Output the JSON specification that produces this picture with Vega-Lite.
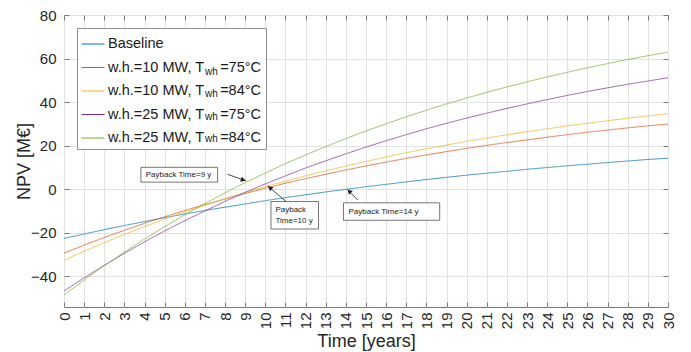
{
  "$schema": "https://vega.github.io/schema/vega-lite/v6.json",
  "width": 604,
  "height": 292,
  "autosize": {"type": "none"},
  "padding": {"left": 64, "top": 15, "right": 23, "bottom": 45},
  "background": "white",
  "config": {
    "font": "Liberation Sans",
    "view": {"stroke": "#7a7a7a", "strokeWidth": 1},
    "axis": {
      "labelFont": "Liberation Sans",
      "labelFontSize": 15,
      "labelColor": "#262626",
      "titleFont": "Liberation Sans",
      "titleFontSize": 18,
      "titleFontWeight": "normal",
      "titleColor": "#262626",
      "gridColor": "#e2e2e2",
      "gridWidth": 1,
      "tickColor": "#7a7a7a",
      "domain": false
    }
  },
  "datasets": {
    "npv": [
      {"t":0,"s":"Baseline","v":-22.5},{"t":1,"s":"Baseline","v":-20.5},{"t":2,"s":"Baseline","v":-18.5},{"t":3,"s":"Baseline","v":-16.6},{"t":4,"s":"Baseline","v":-14.8},{"t":5,"s":"Baseline","v":-13.0},{"t":6,"s":"Baseline","v":-11.3},{"t":7,"s":"Baseline","v":-9.7},{"t":8,"s":"Baseline","v":-8.2},{"t":9,"s":"Baseline","v":-6.7},{"t":10,"s":"Baseline","v":-5.2},{"t":11,"s":"Baseline","v":-3.8},{"t":12,"s":"Baseline","v":-2.5},{"t":13,"s":"Baseline","v":-1.2},{"t":14,"s":"Baseline","v":0.0},{"t":15,"s":"Baseline","v":1.2},{"t":16,"s":"Baseline","v":2.3},{"t":17,"s":"Baseline","v":3.4},{"t":18,"s":"Baseline","v":4.5},{"t":19,"s":"Baseline","v":5.5},{"t":20,"s":"Baseline","v":6.5},{"t":21,"s":"Baseline","v":7.4},{"t":22,"s":"Baseline","v":8.3},{"t":23,"s":"Baseline","v":9.2},{"t":24,"s":"Baseline","v":10.0},{"t":25,"s":"Baseline","v":10.8},{"t":26,"s":"Baseline","v":11.5},{"t":27,"s":"Baseline","v":12.3},{"t":28,"s":"Baseline","v":13.0},{"t":29,"s":"Baseline","v":13.7},{"t":30,"s":"Baseline","v":14.3},
      {"t":0,"s":"w.h.=10 MW, Twh=75°C","v":-29.3},{"t":1,"s":"w.h.=10 MW, Twh=75°C","v":-25.6},{"t":2,"s":"w.h.=10 MW, Twh=75°C","v":-22.1},{"t":3,"s":"w.h.=10 MW, Twh=75°C","v":-18.8},{"t":4,"s":"w.h.=10 MW, Twh=75°C","v":-15.6},{"t":5,"s":"w.h.=10 MW, Twh=75°C","v":-12.6},{"t":6,"s":"w.h.=10 MW, Twh=75°C","v":-9.7},{"t":7,"s":"w.h.=10 MW, Twh=75°C","v":-7.0},{"t":8,"s":"w.h.=10 MW, Twh=75°C","v":-4.4},{"t":9,"s":"w.h.=10 MW, Twh=75°C","v":-1.9},{"t":10,"s":"w.h.=10 MW, Twh=75°C","v":0.5},{"t":11,"s":"w.h.=10 MW, Twh=75°C","v":2.8},{"t":12,"s":"w.h.=10 MW, Twh=75°C","v":4.9},{"t":13,"s":"w.h.=10 MW, Twh=75°C","v":6.9},{"t":14,"s":"w.h.=10 MW, Twh=75°C","v":8.9},{"t":15,"s":"w.h.=10 MW, Twh=75°C","v":10.7},{"t":16,"s":"w.h.=10 MW, Twh=75°C","v":12.5},{"t":17,"s":"w.h.=10 MW, Twh=75°C","v":14.2},{"t":18,"s":"w.h.=10 MW, Twh=75°C","v":15.8},{"t":19,"s":"w.h.=10 MW, Twh=75°C","v":17.3},{"t":20,"s":"w.h.=10 MW, Twh=75°C","v":18.8},{"t":21,"s":"w.h.=10 MW, Twh=75°C","v":20.2},{"t":22,"s":"w.h.=10 MW, Twh=75°C","v":21.5},{"t":23,"s":"w.h.=10 MW, Twh=75°C","v":22.7},{"t":24,"s":"w.h.=10 MW, Twh=75°C","v":23.9},{"t":25,"s":"w.h.=10 MW, Twh=75°C","v":25.1},{"t":26,"s":"w.h.=10 MW, Twh=75°C","v":26.2},{"t":27,"s":"w.h.=10 MW, Twh=75°C","v":27.2},{"t":28,"s":"w.h.=10 MW, Twh=75°C","v":28.2},{"t":29,"s":"w.h.=10 MW, Twh=75°C","v":29.1},{"t":30,"s":"w.h.=10 MW, Twh=75°C","v":30.0},
      {"t":0,"s":"w.h.=10 MW, Twh=84°C","v":-32.6},{"t":1,"s":"w.h.=10 MW, Twh=84°C","v":-28.4},{"t":2,"s":"w.h.=10 MW, Twh=84°C","v":-24.5},{"t":3,"s":"w.h.=10 MW, Twh=84°C","v":-20.7},{"t":4,"s":"w.h.=10 MW, Twh=84°C","v":-17.1},{"t":5,"s":"w.h.=10 MW, Twh=84°C","v":-13.7},{"t":6,"s":"w.h.=10 MW, Twh=84°C","v":-10.4},{"t":7,"s":"w.h.=10 MW, Twh=84°C","v":-7.3},{"t":8,"s":"w.h.=10 MW, Twh=84°C","v":-4.3},{"t":9,"s":"w.h.=10 MW, Twh=84°C","v":-1.5},{"t":10,"s":"w.h.=10 MW, Twh=84°C","v":1.2},{"t":11,"s":"w.h.=10 MW, Twh=84°C","v":3.8},{"t":12,"s":"w.h.=10 MW, Twh=84°C","v":6.2},{"t":13,"s":"w.h.=10 MW, Twh=84°C","v":8.5},{"t":14,"s":"w.h.=10 MW, Twh=84°C","v":10.7},{"t":15,"s":"w.h.=10 MW, Twh=84°C","v":12.8},{"t":16,"s":"w.h.=10 MW, Twh=84°C","v":14.9},{"t":17,"s":"w.h.=10 MW, Twh=84°C","v":16.8},{"t":18,"s":"w.h.=10 MW, Twh=84°C","v":18.6},{"t":19,"s":"w.h.=10 MW, Twh=84°C","v":20.3},{"t":20,"s":"w.h.=10 MW, Twh=84°C","v":22.0},{"t":21,"s":"w.h.=10 MW, Twh=84°C","v":23.5},{"t":22,"s":"w.h.=10 MW, Twh=84°C","v":25.0},{"t":23,"s":"w.h.=10 MW, Twh=84°C","v":26.5},{"t":24,"s":"w.h.=10 MW, Twh=84°C","v":27.8},{"t":25,"s":"w.h.=10 MW, Twh=84°C","v":29.1},{"t":26,"s":"w.h.=10 MW, Twh=84°C","v":30.3},{"t":27,"s":"w.h.=10 MW, Twh=84°C","v":31.5},{"t":28,"s":"w.h.=10 MW, Twh=84°C","v":32.6},{"t":29,"s":"w.h.=10 MW, Twh=84°C","v":33.7},{"t":30,"s":"w.h.=10 MW, Twh=84°C","v":34.7},
      {"t":0,"s":"w.h.=25 MW, Twh=75°C","v":-46.7},{"t":1,"s":"w.h.=25 MW, Twh=75°C","v":-40.6},{"t":2,"s":"w.h.=25 MW, Twh=75°C","v":-34.9},{"t":3,"s":"w.h.=25 MW, Twh=75°C","v":-29.4},{"t":4,"s":"w.h.=25 MW, Twh=75°C","v":-24.1},{"t":5,"s":"w.h.=25 MW, Twh=75°C","v":-19.1},{"t":6,"s":"w.h.=25 MW, Twh=75°C","v":-14.4},{"t":7,"s":"w.h.=25 MW, Twh=75°C","v":-9.9},{"t":8,"s":"w.h.=25 MW, Twh=75°C","v":-5.5},{"t":9,"s":"w.h.=25 MW, Twh=75°C","v":-1.4},{"t":10,"s":"w.h.=25 MW, Twh=75°C","v":2.5},{"t":11,"s":"w.h.=25 MW, Twh=75°C","v":6.2},{"t":12,"s":"w.h.=25 MW, Twh=75°C","v":9.8},{"t":13,"s":"w.h.=25 MW, Twh=75°C","v":13.1},{"t":14,"s":"w.h.=25 MW, Twh=75°C","v":16.3},{"t":15,"s":"w.h.=25 MW, Twh=75°C","v":19.4},{"t":16,"s":"w.h.=25 MW, Twh=75°C","v":22.3},{"t":17,"s":"w.h.=25 MW, Twh=75°C","v":25.1},{"t":18,"s":"w.h.=25 MW, Twh=75°C","v":27.8},{"t":19,"s":"w.h.=25 MW, Twh=75°C","v":30.3},{"t":20,"s":"w.h.=25 MW, Twh=75°C","v":32.7},{"t":21,"s":"w.h.=25 MW, Twh=75°C","v":35.0},{"t":22,"s":"w.h.=25 MW, Twh=75°C","v":37.1},{"t":23,"s":"w.h.=25 MW, Twh=75°C","v":39.2},{"t":24,"s":"w.h.=25 MW, Twh=75°C","v":41.2},{"t":25,"s":"w.h.=25 MW, Twh=75°C","v":43.1},{"t":26,"s":"w.h.=25 MW, Twh=75°C","v":44.9},{"t":27,"s":"w.h.=25 MW, Twh=75°C","v":46.6},{"t":28,"s":"w.h.=25 MW, Twh=75°C","v":48.2},{"t":29,"s":"w.h.=25 MW, Twh=75°C","v":49.7},{"t":30,"s":"w.h.=25 MW, Twh=75°C","v":51.2},
      {"t":0,"s":"w.h.=25 MW, Twh=84°C","v":-48.5},{"t":1,"s":"w.h.=25 MW, Twh=84°C","v":-41.6},{"t":2,"s":"w.h.=25 MW, Twh=84°C","v":-35.0},{"t":3,"s":"w.h.=25 MW, Twh=84°C","v":-28.8},{"t":4,"s":"w.h.=25 MW, Twh=84°C","v":-22.8},{"t":5,"s":"w.h.=25 MW, Twh=84°C","v":-17.1},{"t":6,"s":"w.h.=25 MW, Twh=84°C","v":-11.7},{"t":7,"s":"w.h.=25 MW, Twh=84°C","v":-6.5},{"t":8,"s":"w.h.=25 MW, Twh=84°C","v":-1.6},{"t":9,"s":"w.h.=25 MW, Twh=84°C","v":3.1},{"t":10,"s":"w.h.=25 MW, Twh=84°C","v":7.5},{"t":11,"s":"w.h.=25 MW, Twh=84°C","v":11.8},{"t":12,"s":"w.h.=25 MW, Twh=84°C","v":15.8},{"t":13,"s":"w.h.=25 MW, Twh=84°C","v":19.6},{"t":14,"s":"w.h.=25 MW, Twh=84°C","v":23.3},{"t":15,"s":"w.h.=25 MW, Twh=84°C","v":26.8},{"t":16,"s":"w.h.=25 MW, Twh=84°C","v":30.1},{"t":17,"s":"w.h.=25 MW, Twh=84°C","v":33.3},{"t":18,"s":"w.h.=25 MW, Twh=84°C","v":36.3},{"t":19,"s":"w.h.=25 MW, Twh=84°C","v":39.2},{"t":20,"s":"w.h.=25 MW, Twh=84°C","v":41.9},{"t":21,"s":"w.h.=25 MW, Twh=84°C","v":44.5},{"t":22,"s":"w.h.=25 MW, Twh=84°C","v":47.0},{"t":23,"s":"w.h.=25 MW, Twh=84°C","v":49.3},{"t":24,"s":"w.h.=25 MW, Twh=84°C","v":51.6},{"t":25,"s":"w.h.=25 MW, Twh=84°C","v":53.7},{"t":26,"s":"w.h.=25 MW, Twh=84°C","v":55.8},{"t":27,"s":"w.h.=25 MW, Twh=84°C","v":57.7},{"t":28,"s":"w.h.=25 MW, Twh=84°C","v":59.6},{"t":29,"s":"w.h.=25 MW, Twh=84°C","v":61.3},{"t":30,"s":"w.h.=25 MW, Twh=84°C","v":63.0}
    ],
    "boxes": [
      {"x":3.82,"x2":7.63,"y":10.1,"y2":3.3},
      {"x":10.28,"x2":12.64,"y":-5.6,"y2":-18.2},
      {"x":13.88,"x2":18.66,"y":-6.2,"y2":-14.2}
    ],
    "notes": [
      {"x":4.06,"y":6.7,"label":"Payback Time=9 y"},
      {"x":10.5,"y":-9.4,"label":"Payback\nTime=10 y"},
      {"x":14.13,"y":-10.3,"label":"Payback Time=14 y"}
    ],
    "arrows": [
      {"id":"a1","x":8.12,"y":6.9,"x2":9.04,"y2":3.9,"hx":8.9,"hy":4.3},
      {"id":"a2","x":11.03,"y":-5.6,"x2":10.11,"y2":1.6,"hx":10.23,"hy":0.7},
      {"id":"a3","x":14.59,"y":-4.9,"x2":14.06,"y2":0.1,"hx":14.17,"hy":-0.9}
    ]
  },
  "layer": [
    {
      "data": {"name": "npv"},
      "mark": {"type": "line", "strokeWidth": 1, "strokeOpacity": 0.75},
      "encoding": {
        "x": {
          "field": "t", "type": "quantitative",
          "scale": {"domain": [0, 30], "nice": false, "zero": false},
          "axis": {
            "orient": "bottom", "title": "Time [years]",
            "values": [0,1,2,3,4,5,6,7,8,9,10,11,12,13,14,15,16,17,18,19,20,21,22,23,24,25,26,27,28,29,30],
            "labelAngle": -90, "labelAlign": "right", "labelBaseline": "middle",
            "tickSize": -5, "labelPadding": 10, "titlePadding": 4, "grid": true
          }
        },
        "y": {
          "field": "v", "type": "quantitative",
          "scale": {"domain": [-54, 80], "nice": false, "zero": false},
          "axis": {
            "orient": "left", "title": "NPV [M€]",
            "values": [-40, -20, 0, 20, 40, 60, 80],
            "tickSize": -5, "labelPadding": 13, "titlePadding": -3, "grid": true
          }
        },
        "color": {
          "field": "s", "type": "nominal",
          "scale": {
            "domain": ["Baseline", "w.h.=10 MW, Twh=75°C", "w.h.=10 MW, Twh=84°C", "w.h.=25 MW, Twh=75°C", "w.h.=25 MW, Twh=84°C"],
            "range": ["#0072BD", "#D95319", "#EDB120", "#7E2F8E", "#77AC30"]
          },
          "legend": {
            "orient": "top-left", "offset": 13, "title": null,
            "symbolType": "stroke", "symbolSize": 529, "symbolStrokeWidth": 1,
            "labelFont": "Liberation Sans", "labelFontSize": 14.5, "labelColor": "#1a1a1a",
            "labelOffset": 3, "labelLimit": 300, "rowPadding": 4.5,
            "padding": 4, "strokeColor": "#8c8c8c", "fillColor": "white",
            "labelExpr": "replace(datum.label, 'Twh', 'T\u00a0\u00a0\u00a0\u00a0')"
          }
        },
        "strokeDash": {
          "field": "s", "type": "nominal",
          "scale": {
            "domain": ["Baseline", "w.h.=10 MW, Twh=75°C", "w.h.=10 MW, Twh=84°C", "w.h.=25 MW, Twh=75°C", "w.h.=25 MW, Twh=84°C"],
            "range": [[1, 0], [1, 0], [1, 0], [1, 0], [1, 0]]
          },
          "legend": {
            "orient": "none", "legendX": 13, "legendY": 18, "title": null,
            "symbolType": "stroke", "symbolSize": 529, "symbolOpacity": 0, "symbolStrokeWidth": 1,
            "symbolStrokeColor": "transparent",
            "labelFont": "Liberation Sans", "labelFontSize": 10, "labelColor": "#1a1a1a",
            "labelOffset": 100, "labelLimit": 300, "rowPadding": 5.5, "padding": 4,
            "labelExpr": "datum.label == 'Baseline' ? '' : 'wh'"
          }
        }
      }
    },
    {
      "mark": {"type": "rule", "color": "#8a8a8a", "strokeDash": [5, 3], "strokeWidth": 1},
      "encoding": {"y": {"datum": 0, "type": "quantitative", "axis": null}}
    },
    {
      "data": {"name": "boxes"},
      "mark": {"type": "rect", "fill": "white", "stroke": "#3a3a3a", "strokeWidth": 0.7},
      "encoding": {
        "x": {"field": "x", "type": "quantitative", "axis": null},
        "x2": {"field": "x2"},
        "y": {"field": "y", "type": "quantitative", "axis": null},
        "y2": {"field": "y2"}
      }
    },
    {
      "data": {"name": "notes"},
      "mark": {"type": "text", "align": "left", "baseline": "middle", "font": "Liberation Sans", "fontSize": 8, "lineBreak": "\n", "lineHeight": 11, "color": "#1a1a1a"},
      "encoding": {
        "x": {"field": "x", "type": "quantitative", "axis": null},
        "y": {"field": "y", "type": "quantitative", "axis": null},
        "text": {"field": "label"}
      }
    },
    {
      "data": {"name": "arrows"},
      "mark": {"type": "rule", "color": "#1a1a1a", "strokeWidth": 0.8},
      "encoding": {
        "x": {"field": "x", "type": "quantitative",
              "axis": {"orient": "top", "title": null, "labels": false, "grid": false, "domain": false, "tickSize": -5,
                       "values": [0,1,2,3,4,5,6,7,8,9,10,11,12,13,14,15,16,17,18,19,20,21,22,23,24,25,26,27,28,29,30]}},
        "x2": {"field": "x2"},
        "y": {"field": "y", "type": "quantitative",
              "axis": {"orient": "right", "title": null, "labels": false, "grid": false, "domain": false, "tickSize": -5,
                       "values": [-40, -20, 0, 20, 40, 60, 80]}},
        "y2": {"field": "y2"}
      }
    },
    {
      "data": {"name": "arrows"},
      "transform": [{"filter": "datum.id == 'a1'"}],
      "mark": {"type": "point", "shape": "triangle-up", "filled": true, "color": "#1a1a1a", "size": 28, "angle": 110, "opacity": 1},
      "encoding": {"x": {"field": "hx", "type": "quantitative", "axis": null}, "y": {"field": "hy", "type": "quantitative", "axis": null}}
    },
    {
      "data": {"name": "arrows"},
      "transform": [{"filter": "datum.id == 'a2'"}],
      "mark": {"type": "point", "shape": "triangle-up", "filled": true, "color": "#1a1a1a", "size": 28, "angle": 310, "opacity": 1},
      "encoding": {"x": {"field": "hx", "type": "quantitative", "axis": null}, "y": {"field": "hy", "type": "quantitative", "axis": null}}
    },
    {
      "data": {"name": "arrows"},
      "transform": [{"filter": "datum.id == 'a3'"}],
      "mark": {"type": "point", "shape": "triangle-up", "filled": true, "color": "#1a1a1a", "size": 28, "angle": 316, "opacity": 1},
      "encoding": {"x": {"field": "hx", "type": "quantitative", "axis": null}, "y": {"field": "hy", "type": "quantitative", "axis": null}}
    }
  ],
  "resolve": {"axis": {"x": "independent", "y": "independent"}}
}
